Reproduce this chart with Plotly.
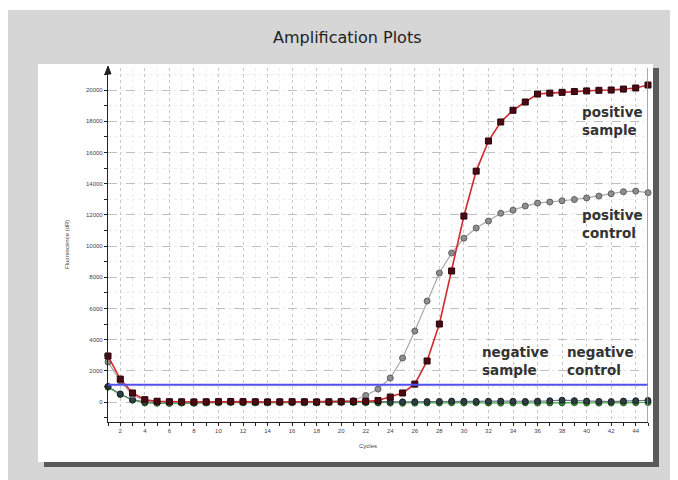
import plotly.graph_objects as go

cycles = list(range(1, 46))

positive_sample = [2950, 1470, 580, 150, 50, 20, 10, 0, 10, 20, 30, 20, 10, 0, 10, 20, 10, 0, 10, 20,
                   30, 50, 100, 320, 580, 1150, 2630, 5000, 8400, 11920, 14800, 16730, 17950, 18700,
                   19230, 19740, 19800, 19850, 19900, 19940, 19980, 20000, 20060, 20130, 20320]
positive_control = [2560, 1350, 450, 100, 30, 20, 10, 20, 30, 20, 10, 20, 30, 20, 10, 20, 30, 20, 40, 60,
                    100, 420, 830, 1540, 2820, 4550, 6470, 8270, 9550, 10500, 11150, 11600, 12100,
                    12300, 12560, 12750, 12820, 12900, 12980, 13080, 13200, 13350, 13480, 13520, 13420]
negative_sample = [950, 480, 120, -60, -80, -90, -70, -80, -60, -40, -30, -40, -50, -40, -30, -40, -50,
                   -40, -30, -20, -30, -40, -60, -70, -80, -70, -60, -60, -50, -60, -50, -60, -70, -60,
                   -50, -60, -60, -50, -40, -60, -70, -60, -50, -40, -30]
negative_control = [1000, 520, 150, 20, 0, 10, 20, 10, 30, 40, 50, 40, 30, 20, 10, 20, 30, 20, 10, 20,
                    30, 40, 30, 20, 10, 20, 30, 40, 60, 50, 40, 50, 60, 50, 40, 60, 80, 120, 90, 60,
                    40, 30, 60, 80, 100]
threshold = 1100
y_ticks = list(range(0, 20001, 2000))
x_ticks = list(range(2, 45, 2))

OFF = 8  # page body margin
W, H = 678 - OFF, 480 - OFF
L, T = 108 - OFF, 68 - OFF
R, B = 678 - 648, 480 - 422
PW, PH = W - L - R, H - T - B
X_RANGE = [1, 45]
Y_RANGE = [-1280, 21410]


def px(sx):
    return (sx - OFF - L) / PW


def py(sy):
    return (H - B - (sy - OFF)) / PH


fig = go.Figure()

fig.add_trace(go.Scatter(x=cycles, y=negative_sample, mode="lines+markers",
                         line=dict(color="#4cb04c", width=1.2),
                         marker=dict(symbol="circle", size=6, color="#3d8a3d",
                                     line=dict(color="#245a24", width=1)),
                         cliponaxis=False, showlegend=False))
fig.add_trace(go.Scatter(x=cycles, y=negative_control, mode="lines+markers",
                         line=dict(color="#6a7a80", width=1.2),
                         marker=dict(symbol="circle", size=6, color="#2e3c44",
                                     line=dict(color="#1a2228", width=1)),
                         cliponaxis=False, showlegend=False))
fig.add_trace(go.Scatter(x=cycles, y=positive_control, mode="lines+markers",
                         line=dict(color="#a8a8a8", width=1.2),
                         marker=dict(symbol="circle", size=6, color="#8e8e8e",
                                     line=dict(color="#5e5e5e", width=1)),
                         cliponaxis=False, showlegend=False))
fig.add_trace(go.Scatter(x=cycles, y=positive_sample, mode="lines+markers",
                         line=dict(color="#d02a30", width=1.6),
                         marker=dict(symbol="square", size=6, color="#4a0a14",
                                     line=dict(color="#2a0008", width=1)),
                         cliponaxis=False, showlegend=False))

shapes = [
    # gray page
    dict(type="rect", xref="paper", yref="paper", x0=px(5), x1=px(700), y0=py(500), y1=py(10),
         fillcolor="#d6d6d6", line=dict(width=0), layer="below"),
    # panel shadow
    dict(type="rect", xref="paper", yref="paper", x0=px(44), x1=px(659), y0=py(467), y1=py(68),
         fillcolor="#5a5a5a", line=dict(width=0), layer="below"),
    # white panel
    dict(type="rect", xref="paper", yref="paper", x0=px(38), x1=px(653), y0=py(462), y1=py(64),
         fillcolor="#ffffff", line=dict(width=0), layer="below"),
    # threshold line
    dict(type="line", xref="x", yref="y", x0=X_RANGE[0], x1=X_RANGE[1], y0=threshold, y1=threshold,
         line=dict(color="#5050f0", width=2)),
    # vertical marker line at end
    dict(type="line", xref="x", yref="paper", x0=X_RANGE[1], x1=X_RANGE[1], y0=0, y1=1,
         line=dict(color="#4aa0dc", width=1.5)),
    # arrow on y axis
    dict(type="path", xref="paper", yref="paper",
         path=f"M {px(105)} {py(74)} L {px(108)} {py(66)} L {px(111)} {py(74)} Z",
         fillcolor="#222", line=dict(color="#222", width=1)),
]

ann_font = dict(family="DejaVu Sans, Verdana, sans-serif", size=13.5, color="#333333")


def label(text, sx, sy):
    return dict(text=f"<b>{text}</b>", xref="paper", yref="paper", x=px(sx), y=py(sy),
                xanchor="left", yanchor="middle", showarrow=False, font=ann_font, align="left")


annotations = [
    label("positive<br>sample", 580, 121),
    label("positive<br>control", 580, 224),
    label("negative<br>sample", 480, 361),
    label("negative<br>control", 565, 361),
    dict(text="Amplification Plots", xref="paper", yref="paper", x=px(347), y=py(37),
         xanchor="center", yanchor="middle", showarrow=False,
         font=dict(family="DejaVu Sans, Verdana, sans-serif", size=16, color="#222")),
    dict(text="Fluorescence (dR)", xref="paper", yref="paper", x=px(67), y=py(245), textangle=-90,
         xanchor="center", yanchor="middle", showarrow=False,
         font=dict(family="Liberation Sans, Arial, sans-serif", size=6, color="#444")),
    dict(text="Cycles", xref="paper", yref="paper", x=px(368), y=py(446),
         xanchor="center", yanchor="middle", showarrow=False,
         font=dict(family="Liberation Sans, Arial, sans-serif", size=6, color="#444")),
]

fig.update_layout(
    width=W, height=H,
    margin=dict(l=L, r=R, t=T, b=B, autoexpand=False),
    paper_bgcolor="#ffffff", plot_bgcolor="rgba(0,0,0,0)",
    shapes=shapes, annotations=annotations,
    font=dict(family="Liberation Sans, Arial, sans-serif", size=6, color="#333"),
)
fig.update_xaxes(range=X_RANGE, tickmode="array", tickvals=x_ticks, ticktext=[str(v) for v in x_ticks],
                 showline=True, linecolor="#222", linewidth=1.2, ticks="outside", ticklen=3,
                 tickcolor="#222", showgrid=True, gridcolor="#c8c8c8", griddash="dot", gridwidth=1,
                 minor=dict(dtick=1, tick0=1, ticks="outside", ticklen=3, tickcolor="#222",
                            showgrid=True, gridcolor="#ececec", griddash="dot"),
                 zeroline=False, tickfont=dict(size=6, color="#444"))
fig.update_yaxes(range=Y_RANGE, tickmode="array", tickvals=y_ticks, ticktext=[str(v) for v in y_ticks],
                 showline=True, linecolor="#222", linewidth=1.2, ticks="outside", ticklen=3,
                 tickcolor="#222", showgrid=True, gridcolor="#c0c0c0", griddash="dash", gridwidth=1,
                 minor=dict(dtick=1000, tick0=0, ticks="outside", ticklen=3, tickcolor="#222",
                            showgrid=True, gridcolor="#ececec", griddash="dot"),
                 zeroline=False, tickfont=dict(size=6, color="#444"))

fig.write_html("out.html")
